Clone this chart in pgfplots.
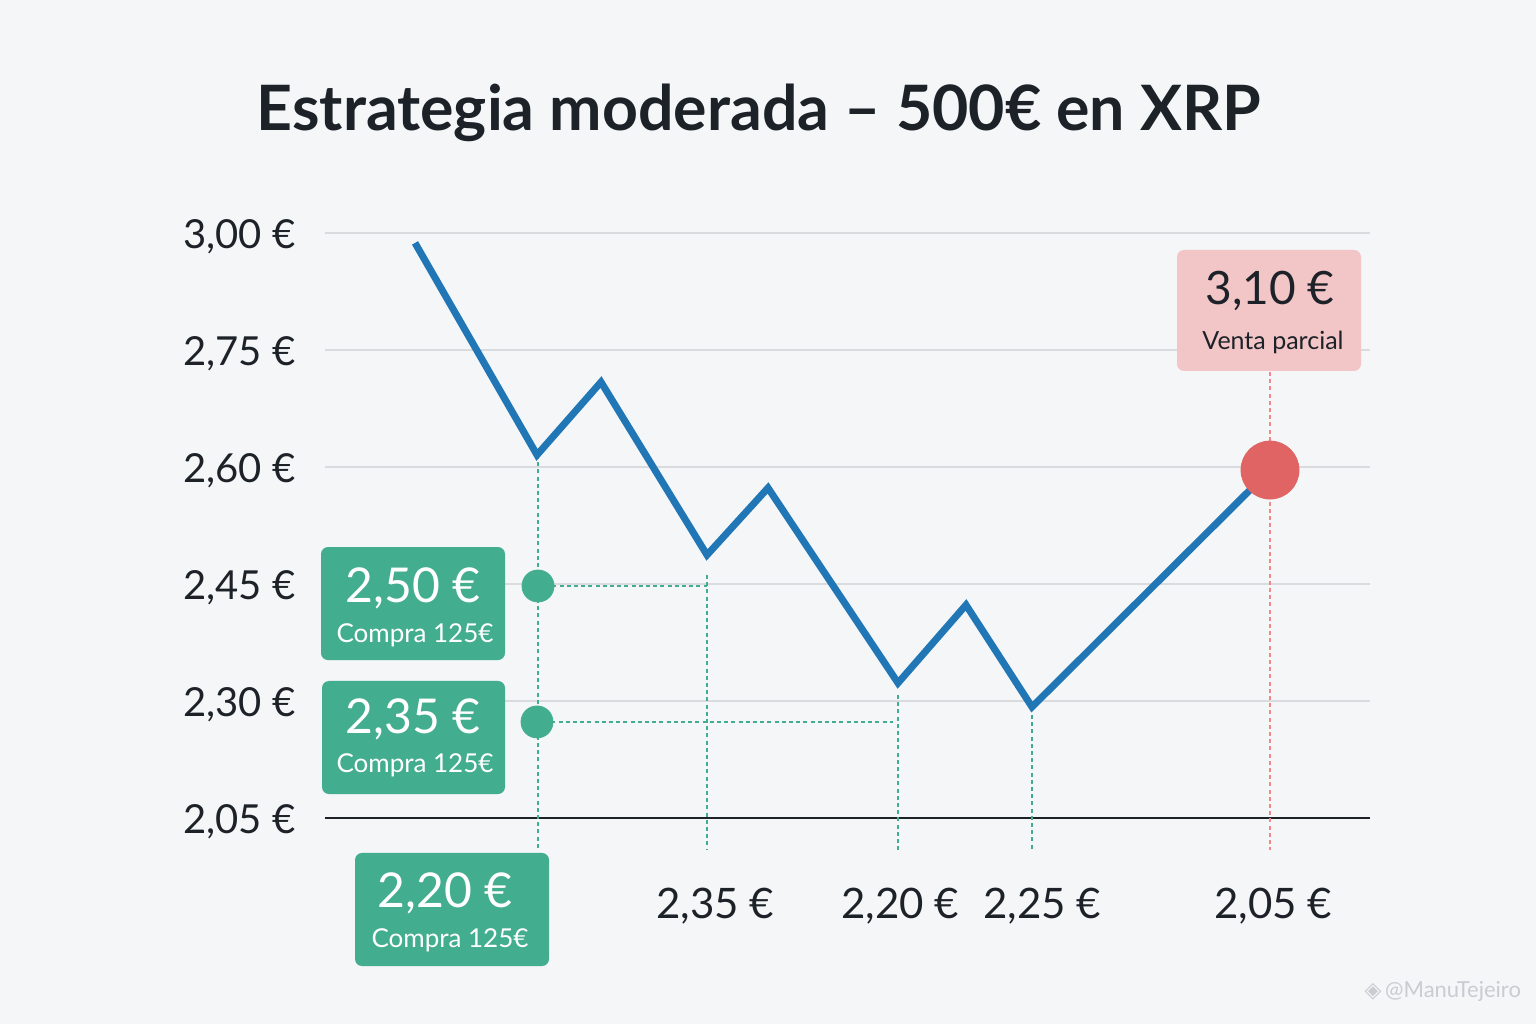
\documentclass[border=0pt]{standalone}
\usepackage{fontspec}
\setmainfont{Lato}
\newfontfamily\djv{DejaVu Sans}
\usepackage{pgfplots}
\pgfplotsset{compat=1.18}
\definecolor{bgc}{HTML}{F4F6F8}
\definecolor{linec}{HTML}{2176B6}
\definecolor{greenc}{HTML}{43AE8F}
\definecolor{pinkc}{HTML}{F2C5C7}
\definecolor{redc}{HTML}{E06464}
\definecolor{redd}{HTML}{F08A8A}
\definecolor{gridc}{HTML}{D9DBDE}
\definecolor{txt}{HTML}{1C2228}
\definecolor{wm}{HTML}{C9CDD1}
\begin{document}
\begin{tikzpicture}
\fill[bgc] (0,0) rectangle (768pt,512pt);
\begin{axis}[
  at={(162.5pt,103pt)}, anchor=south west,
  x=0.5pt, y=58.5pt,
  xmin=325, xmax=1370, ymin=0, ymax=5,
  enlargelimits=false, clip=false,
  axis line style={draw=none},
  xtick=\empty,
  ytick={0,1,2,3,4,5},
  yticklabels={{2,05 €},{2,30 €},{2,45 €},{2,60 €},{2,75 €},{3,00 €}},
  major tick length=0pt,
  ymajorgrids, grid style={draw=gridc, line width=1pt},
  yticklabel style={font=\fontsize{20}{23}\selectfont, text=txt, anchor=east, inner sep=0pt, xshift=-14.5pt, yshift=-2pt},
  /pgf/number format/assume math mode=true,
  gd/.style={greenc, line width=0.9pt, dash pattern=on 2pt off 1.6pt},
  rd/.style={redd, line width=0.9pt, dash pattern=on 2pt off 1.6pt},
]
% baseline
\addplot[txt, line width=1pt] coordinates {(325,0) (1370,0)};
% guide lines
\addplot[gd] coordinates {(538,3.103) (538,-0.274)};
\addplot[gd] coordinates {(538,1.983) (707,1.983)};
\addplot[gd] coordinates {(707,2.077) (707,-0.274)};
\addplot[gd] coordinates {(537,0.821) (893,0.821)};
\addplot[gd] coordinates {(898,1.051) (898,-0.274)};
\addplot[gd] coordinates {(1032,0.88) (1032,-0.274)};
\addplot[rd] coordinates {(1270,3.812) (1270,-0.274)};
% price line
\addplot[linec, line width=3.5pt, line join=miter] coordinates {
  (415,4.915) (537,3.103) (601,3.726) (707,2.248) (768,2.821)
  (898,1.154) (966,1.821) (1032,0.949) (1270,2.974)};
% markers
\addplot[only marks, mark=*, mark size=8pt, mark options={fill=greenc, draw=greenc}] coordinates {(538,1.983) (537,0.821)};
\addplot[only marks, mark=*, mark size=14.5pt, mark options={fill=redc, draw=redc}] coordinates {(1270,2.974)};
% boxes
\fill[greenc, rounded corners=3.5pt] (321,2.316) rectangle (505,1.350);
\fill[greenc, rounded corners=3.5pt] (322,1.171) rectangle (505,0.205);
\fill[greenc, rounded corners=3.5pt] (355,-0.299) rectangle (549,-1.265);
\fill[pinkc, rounded corners=3.5pt] (1177,4.855) rectangle (1361,3.821);
\node[anchor=base, text=white, font=\fontsize{24}{28}\selectfont] at (413,1.846) {2,50 €};
\node[anchor=base, text=white, font=\fontsize{13}{15}\selectfont] at (415,1.504) {Compra 125€};
\node[anchor=base, text=white, font=\fontsize{24}{28}\selectfont] at (413,0.718) {2,35 €};
\node[anchor=base, text=white, font=\fontsize{13}{15}\selectfont] at (415,0.385) {Compra 125€};
\node[anchor=base, text=white, font=\fontsize{24}{28}\selectfont] at (445,-0.761) {2,20 €};
\node[anchor=base, text=white, font=\fontsize{13}{15}\selectfont] at (450,-1.111) {Compra 125€};
\node[anchor=base, text=txt, font=\fontsize{23}{27}\selectfont] at (1270,4.385) {3,10 €};
\node[anchor=base, text=txt, font=\fontsize{12.5}{15}\selectfont] at (1273,4.0) {Venta parcial};
% bottom labels
\node[anchor=base, text=txt, font=\fontsize{21}{25}\selectfont] at (715,-0.855) {2,35 €};
\node[anchor=base, text=txt, font=\fontsize{21}{25}\selectfont] at (900,-0.855) {2,20 €};
\node[anchor=base, text=txt, font=\fontsize{21}{25}\selectfont] at (1042,-0.855) {2,25 €};
\node[anchor=base, text=txt, font=\fontsize{21}{25}\selectfont] at (1273,-0.855) {2,05 €};
% title
\node[anchor=base, text=txt, font=\bfseries\fontsize{31.3}{36}\selectfont] at (759,5.880) {Estrategia moderada – 500€ en XRP};
% watermark
\node[anchor=base east, text=wm, font=\fontsize{11}{13}\selectfont] at (1528,-1.538) {{\djv ◈}\,@ManuTejeiro};
\end{axis}
\pgfresetboundingbox
\path[use as bounding box] (0,0) rectangle (768pt,512pt);
\end{tikzpicture}
\end{document}
